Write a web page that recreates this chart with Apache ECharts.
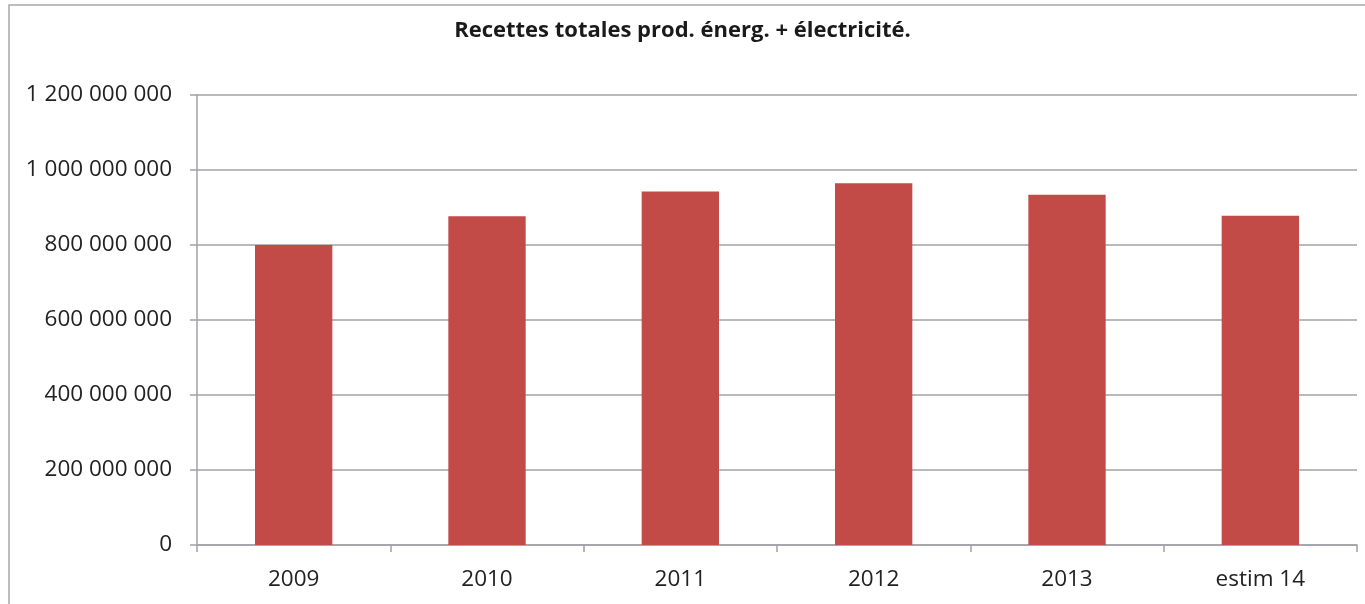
<!DOCTYPE html>
<html>
<head>
<meta charset="utf-8">
<script src="https://cdn.jsdelivr.net/npm/echarts@6/dist/echarts.min.js"></script>
<style>
  html, body { margin: 0; padding: 0; background: #fff; }
  #chart { width: 1365px; height: 604px; }
</style>
</head>
<body>
<div id="chart"></div>
<script>
var titleText = 'Recettes totales prod. énerg. + électricité.';
var categories = ['2009', '2010', '2011', '2012', '2013', 'estim 14'];
var values = [800000000, 877000000, 943000000, 965000000, 934000000, 878000000];
var yTicks = { min: 0, max: 1200000000, interval: 200000000 };

function fmt(v) {
  return String(Math.round(v)).replace(/\B(?=(\d{3})+(?!\d))/g, ' ');
}

var chart = echarts.init(document.getElementById('chart'), null, { renderer: 'canvas' });
var gridColor = '#a3a0a8';
chart.setOption({
  animation: false,
  backgroundColor: '#ffffff',
  graphic: [{
    type: 'rect',
    shape: { x: 9, y: 5, width: 1500, height: 800 },
    style: { fill: 'none', stroke: '#a8a8a8', lineWidth: 1.5 },
    silent: true
  }],
  title: {
    text: titleText,
    left: 'center',
    top: 15,
    textStyle: { fontFamily: 'Open Sans', fontWeight: 'bold', fontSize: 22, color: '#1a1a1a' }
  },
  grid: { left: 197, right: 8, top: 95, bottom: 59, containLabel: false },
  xAxis: {
    type: 'category',
    data: categories,
    axisLine: { lineStyle: { color: gridColor, width: 1.5 } },
    axisTick: { show: true, alignWithLabel: false, length: 7, lineStyle: { color: gridColor, width: 1.5 } },
    axisLabel: { fontFamily: 'Open Sans', fontSize: 22.5, color: '#222', margin: 23 }
  },
  yAxis: {
    type: 'value',
    min: yTicks.min,
    max: yTicks.max,
    interval: yTicks.interval,
    axisLine: { show: true, lineStyle: { color: gridColor, width: 1.5 } },
    axisTick: { show: true, length: 7, lineStyle: { color: gridColor, width: 1.5 } },
    splitLine: { show: true, lineStyle: { color: gridColor, width: 1.5 } },
    axisLabel: { fontFamily: 'Open Sans', fontSize: 22.5, color: '#222', margin: 25, formatter: fmt }
  },
  series: [{
    type: 'bar',
    data: values,
    barCategoryGap: '60%',
    itemStyle: { color: '#c24a47' }
  }]
});
</script>
</body>
</html>
